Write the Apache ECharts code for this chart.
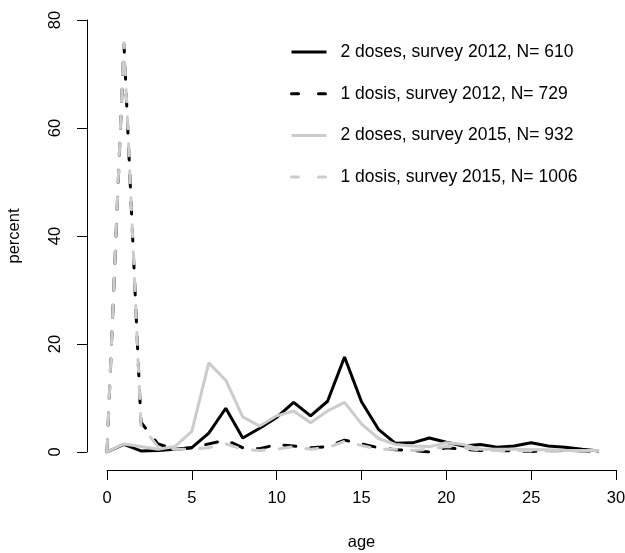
<!DOCTYPE html>
<html>
<head>
<meta charset="utf-8">
<script src="https://cdn.jsdelivr.net/npm/echarts@6/dist/echarts.min.js"></script>
<style>
html,body{margin:0;padding:0;background:#fff;}
#chart{width:625px;height:553px;}
</style>
</head>
<body>
<div id="chart"></div>
<script>
const ages = [0,1,2,3,4,5,6,7,8,9,10,11,12,13,14,15,16,17,18,19,20,21,22,23,24,25,26,27,28,29];
const seriesNames = [
  "2 doses, survey 2012, N= 610",
  "1 dosis, survey 2012, N= 729",
  "2 doses, survey 2015, N= 932",
  "1 dosis, survey 2015, N= 1006"
];
const twoDoses2012 = [0,1.4,0.2,0.3,0.5,0.8,3.5,8.1,2.6,4.4,6.4,9.2,6.7,9.4,17.6,9.3,4.2,1.6,1.7,2.6,1.8,1.1,1.4,0.9,1.1,1.7,1.1,0.9,0.5,0.2];
const oneDose2012 = [0,75.6,5.5,1.5,0.5,0.8,1.5,2.2,0.8,0.6,1.4,1.1,0.8,1.0,2.2,1.5,0.8,0.4,0.3,0.0,0.8,0.5,0.3,0.3,0.2,0.1,0.2,0.3,0.2,0.2];
const twoDoses2015 = [0,1.5,1.0,0.5,1.0,3.8,16.5,13.3,6.5,4.8,6.7,7.6,5.4,7.6,9.2,5.2,2.5,1.4,1.1,1.0,1.7,1.4,0.5,0.5,0.5,0.4,0.4,0.3,0.3,0.3];
const oneDose2015 = [0,76,5.0,1.0,0.5,0.5,0.8,1.5,0.5,0.3,0.5,1.0,0.5,0.8,2.0,1.2,0.5,0.5,0.3,0.5,1.0,0.8,0.3,0.3,0.3,0.2,0.2,0.2,0.2,0.2];
const xTicks = [0,5,10,15,20,25,30];
const yTicks = [0,20,40,60,80];

const pairs = v => ages.map((a,i)=>[a, v[i]]);
const chart = echarts.init(document.getElementById('chart'), null, {renderer:'canvas'});
const font = 'Liberation Sans, Arial, Helvetica, sans-serif';
const colors = ['#000000','#000000','#cccccc','#cccccc'];
const dashedFlags = [false,true,false,true];
function mk(i, vals){
  const color = colors[i], dashed = dashedFlags[i];
  return {
    name: seriesNames[i], type:'line', data: pairs(vals), symbol:'none', showSymbol:false,
    animation:false, smooth:false,
    lineStyle:{color, width:3, type: dashed ? [12,15] : 'solid', cap: dashed ? 'round' : 'butt'},
    itemStyle:{color},
    emphasis:{disabled:true}
  };
}
chart.setOption({
  animation:false,
  backgroundColor:'#fff',
  grid:{left:107, right:9, top:20, bottom:101, containLabel:false, outerBoundsMode:'none'},
  xAxis:{
    type:'value', min:xTicks[0], max:xTicks[xTicks.length-1], interval:5, offset:18,
    name:'age', nameLocation:'middle', nameGap:64,
    nameTextStyle:{fontFamily:font, fontSize:16.5, color:'#000'},
    axisLine:{show:true, onZero:false, lineStyle:{color:'#000', width:1}},
    axisTick:{show:true, length:10, lineStyle:{color:'#000'}},
    axisLabel:{fontFamily:font, fontSize:16.5, color:'#000', margin:20},
    splitLine:{show:false}
  },
  yAxis:{
    type:'value', min:yTicks[0], max:yTicks[yTicks.length-1], interval:20, offset:20,
    name:'percent', nameLocation:'middle', nameGap:64, nameRotate:90,
    nameTextStyle:{fontFamily:font, fontSize:16.5, color:'#000'},
    axisLine:{show:true, onZero:false, lineStyle:{color:'#000', width:1}},
    axisTick:{show:true, length:10, lineStyle:{color:'#000'}},
    axisLabel:{fontFamily:font, fontSize:16.5, color:'#000', margin:23, rotate:90},
    splitLine:{show:false}
  },
  legend:{
    orient:'vertical', left:290, top:42, padding:0, itemWidth:35, itemHeight:14, itemGap:21.7,
    data: seriesNames.map((n,i)=>({
      name:n,
      lineStyle: dashedFlags[i] ? {type:[7,20], cap:'round', width:3, color:colors[i]} : {type:'solid', width:3, color:colors[i]}
    })),
    itemStyle:{opacity:0},
    textStyle:{fontFamily:font, fontSize:17.5, lineHeight:20, color:'#000', padding:[0,0,0,9]},
    selectedMode:false
  },
  series:[
    mk(0, twoDoses2012),
    mk(1, oneDose2012),
    mk(2, twoDoses2015),
    mk(3, oneDose2015)
  ]
});
</script>
</body>
</html>
